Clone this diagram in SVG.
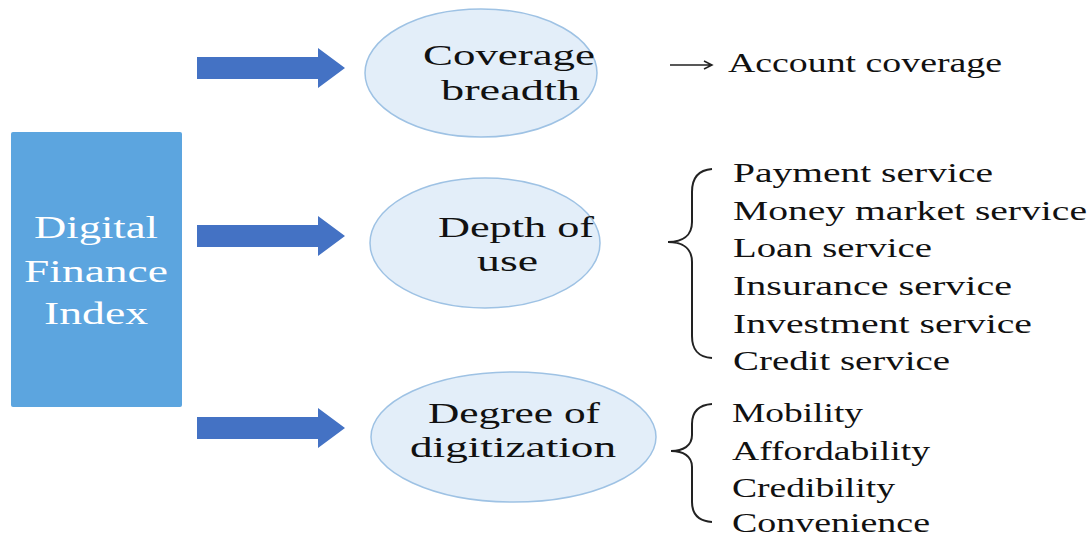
<svg xmlns="http://www.w3.org/2000/svg" width="1092" height="541" viewBox="0 0 1092 541">
  <style>
    .t { font-family: "Liberation Serif", "Times New Roman", serif; fill: #111; }
    .box-t { font-family: "Liberation Serif", "Times New Roman", serif; fill: #ffffff; font-size: 31px; }
    .oval { fill: #E3EEF9; stroke: #9EC2E4; stroke-width: 1.5; }
    .oval-t { font-size: 30px; }
    .item { font-size: 28px; }
    .brace { fill: none; stroke: #222; stroke-width: 2; }
  </style>
  <defs>
    <path id="blockArrow" d="M0,-11 H121 V-20 L148,0 L121,20 V11 H0 Z" fill="#4472C4"/>
  </defs>

  <!-- root node -->
  <g id="digital-finance-index">
    <rect x="11" y="132" width="171" height="275" rx="2" fill="#5CA5DF"/>
    <text class="box-t" x="96" y="238" text-anchor="middle" textLength="124" lengthAdjust="spacingAndGlyphs">Digital</text>
    <text class="box-t" x="96" y="282" text-anchor="middle" textLength="144" lengthAdjust="spacingAndGlyphs">Finance</text>
    <text class="box-t" x="96" y="324" text-anchor="middle" textLength="104" lengthAdjust="spacingAndGlyphs">Index</text>
  </g>

  <!-- block arrows and small pointer -->
  <g id="connectors">
    <use href="#blockArrow" x="197" y="68"/>
    <use href="#blockArrow" x="197" y="236"/>
    <use href="#blockArrow" x="197" y="428"/>
    <path d="M670,65 H711 M704,61 L712,65 L704,69" fill="none" stroke="#222" stroke-width="1.5"/>
  </g>

  <!-- dimension: coverage breadth -->
  <g id="coverage-breadth">
    <ellipse class="oval" cx="481" cy="73" rx="116" ry="64"/>
    <text class="t oval-t" x="423" y="65" textLength="172" lengthAdjust="spacingAndGlyphs">Coverage</text>
    <text class="t oval-t" x="441" y="100" textLength="139" lengthAdjust="spacingAndGlyphs">breadth</text>
  </g>

  <!-- dimension: depth of use -->
  <g id="depth-of-use">
    <ellipse class="oval" cx="485" cy="243" rx="115" ry="65"/>
    <text class="t oval-t" x="438" y="237" textLength="156" lengthAdjust="spacingAndGlyphs">Depth of</text>
    <text class="t oval-t" x="477" y="271" textLength="61" lengthAdjust="spacingAndGlyphs">use</text>
  </g>

  <!-- dimension: degree of digitization -->
  <g id="degree-of-digitization">
    <ellipse class="oval" cx="513.5" cy="437" rx="142.5" ry="65"/>
    <text class="t oval-t" x="428" y="423" textLength="172" lengthAdjust="spacingAndGlyphs">Degree of</text>
    <text class="t oval-t" x="410" y="457" textLength="206" lengthAdjust="spacingAndGlyphs">digitization</text>
  </g>

  <!-- indicators for coverage breadth -->
  <g id="coverage-items">
    <text class="t item" x="728" y="72" textLength="274" lengthAdjust="spacingAndGlyphs">Account coverage</text>
  </g>

  <!-- indicators for depth of use -->
  <g id="depth-items">
    <path class="brace" d="M712,169 C698,170 692,178 692,192 L692,222 C692,236 682,242 668,242 C682,242 692,248 692,262 L692,336 C692,350 698,357 712,358"/>
    <text class="t item" x="733" y="182" textLength="260" lengthAdjust="spacingAndGlyphs">Payment service</text>
    <text class="t item" x="733" y="220" textLength="354" lengthAdjust="spacingAndGlyphs">Money market service</text>
    <text class="t item" x="733" y="257" textLength="199" lengthAdjust="spacingAndGlyphs">Loan service</text>
    <text class="t item" x="733" y="295" textLength="279" lengthAdjust="spacingAndGlyphs">Insurance service</text>
    <text class="t item" x="733" y="333" textLength="299" lengthAdjust="spacingAndGlyphs">Investment service</text>
    <text class="t item" x="733" y="370" textLength="217" lengthAdjust="spacingAndGlyphs">Credit service</text>
  </g>

  <!-- indicators for degree of digitization -->
  <g id="digitization-items">
    <path class="brace" d="M712,404 C698,405 692,412 692,424 L692,435 C692,446 683,451 671,451 C683,451 692,456 692,467 L692,502 C692,514 698,521 712,522"/>
    <text class="t item" x="732" y="422" textLength="131" lengthAdjust="spacingAndGlyphs">Mobility</text>
    <text class="t item" x="732" y="460" textLength="198" lengthAdjust="spacingAndGlyphs">Affordability</text>
    <text class="t item" x="732" y="497" textLength="163" lengthAdjust="spacingAndGlyphs">Credibility</text>
    <text class="t item" x="732" y="532" textLength="198" lengthAdjust="spacingAndGlyphs">Convenience</text>
  </g>
</svg>
